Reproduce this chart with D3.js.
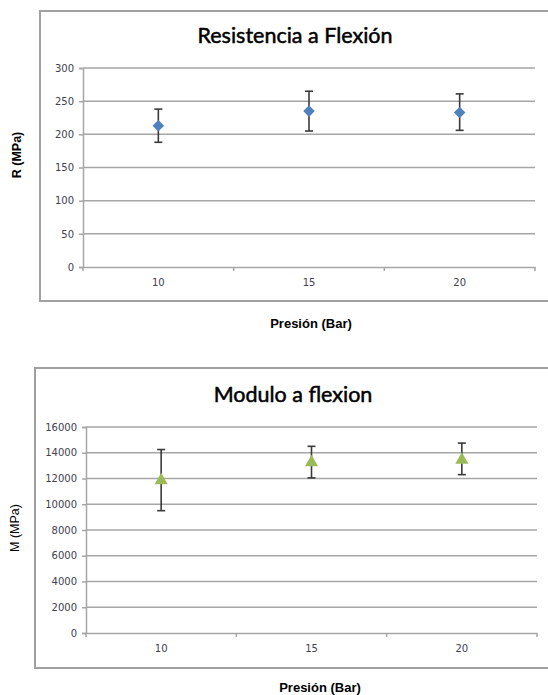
<!DOCTYPE html>
<html>
<head>
<meta charset="utf-8">
<script src="https://cdn.jsdelivr.net/npm/d3@7"></script>
<style>
  body { margin: 0; background: #fff; }
  svg { display: block; }
</style>
</head>
<body>
<svg id="chart" width="548" height="695"></svg>
<script>
(() => {
    // Data
    const presion = ["10", "15", "20"];

    const resistencia = [213, 235, 233];
    const resistenciaLow = [188, 205, 206];
    const resistenciaHigh = [238, 265, 261];
    const resistenciaTicks = [0, 50, 100, 150, 200, 250, 300];

    const modulo = [11850, 13250, 13450];
    const moduloLow = [9500, 12050, 12300];
    const moduloHigh = [14250, 14500, 14750];
    const moduloTicks = [0, 2000, 4000, 6000, 8000, 10000, 12000, 14000, 16000];

    const svg = d3.select("#chart");
    const gridColor = "#a6a6a6";
    const labelColor = "#3f4150";

    function drawChart(cfg) {
        const g = svg.append("g");

        // outer frame
        g.append("rect")
            .attr("x", cfg.box.x).attr("y", cfg.box.y)
            .attr("width", cfg.box.w).attr("height", cfg.box.h)
            .attr("fill", "none").attr("stroke", "#a0a0a0").attr("stroke-width", 2);

        g.append("text")
            .attr("x", cfg.titleX).attr("y", cfg.titleY)
            .attr("text-anchor", "middle")
            .style("font-family", "Lato, 'Open Sans', sans-serif")
            .style("font-size", "21.5px")
            .attr("fill", "#000")
            .attr("stroke", "#000")
            .attr("stroke-width", 0.5)
            .text(cfg.title);

        const x = d3.scaleBand().domain(presion).range([cfg.left, cfg.right]).padding(0);
        const y = d3.scaleLinear().domain([0, d3.max(cfg.ticks)]).range([cfg.bottom, cfg.top]);

        // horizontal gridlines
        g.append("g").selectAll("line")
            .data(cfg.ticks.filter(t => t > 0))
            .join("line")
            .attr("x1", cfg.left).attr("x2", cfg.right)
            .attr("y1", d => y(d)).attr("y2", d => y(d))
            .attr("stroke", gridColor).attr("stroke-width", 1.5);

        // y axis
        const yAxis = g.append("g")
            .attr("transform", `translate(${cfg.left},0)`)
            .call(d3.axisLeft(y).tickValues(cfg.ticks).tickFormat(d3.format("d")).tickSize(4).tickPadding(5));
        yAxis.select(".domain").attr("stroke", gridColor).attr("stroke-width", 1.5);
        yAxis.selectAll(".tick line").attr("stroke", gridColor).attr("stroke-width", 1.5);
        yAxis.selectAll("text")
            .style("font-family", "'DejaVu Sans', sans-serif")
            .style("font-size", "10px")
            .attr("fill", labelColor);

        // x axis with ticks on category boundaries
        const xAxis = g.append("g")
            .attr("transform", `translate(0,${cfg.bottom})`)
            .call(d3.axisBottom(x).tickSize(0).tickPadding(12));
        xAxis.select(".domain").attr("stroke", gridColor).attr("stroke-width", 1.5);
        xAxis.selectAll("text")
            .style("font-family", "'DejaVu Sans', sans-serif")
            .style("font-size", "10px")
            .attr("fill", labelColor);
        const bounds = presion.map(c => x(c)).concat([x(presion[presion.length - 1]) + x.bandwidth()]);
        g.append("g").selectAll("line")
            .data(bounds)
            .join("line")
            .attr("x1", d => d).attr("x2", d => d)
            .attr("y1", cfg.bottom).attr("y2", cfg.bottom + 4)
            .attr("stroke", gridColor).attr("stroke-width", 1.5);

        // error bars
        const pts = presion.map((c, i) => ({
            cx: x(c) + x.bandwidth() / 2,
            v: cfg.values[i], lo: cfg.low[i], hi: cfg.high[i]
        }));
        const eb = g.append("g").attr("stroke", "#3a3a3a").attr("stroke-width", 1.6);
        eb.selectAll("line.v").data(pts).join("line").attr("class", "v")
            .attr("x1", d => d.cx).attr("x2", d => d.cx)
            .attr("y1", d => y(d.lo)).attr("y2", d => y(d.hi));
        eb.selectAll("line.lo").data(pts).join("line").attr("class", "lo")
            .attr("x1", d => d.cx - 4).attr("x2", d => d.cx + 4)
            .attr("y1", d => y(d.lo)).attr("y2", d => y(d.lo));
        eb.selectAll("line.hi").data(pts).join("line").attr("class", "hi")
            .attr("x1", d => d.cx - 4).attr("x2", d => d.cx + 4)
            .attr("y1", d => y(d.hi)).attr("y2", d => y(d.hi));

        // markers
        g.append("g").selectAll("path")
            .data(pts)
            .join("path")
            .attr("transform", d => `translate(${d.cx},${y(d.v)})`)
            .attr("d", d3.symbol().type(cfg.symbol).size(cfg.symbolSize))
            .attr("fill", cfg.color);

        // axis titles
        g.append("text")
            .attr("transform", `translate(${cfg.yTitleX},${cfg.yTitleY}) rotate(-90)`)
            .attr("text-anchor", "middle")
            .style("font-family", "'Liberation Sans', Arial, sans-serif")
            .style("font-size", "12.5px")
            .style("font-weight", cfg.yTitleBold ? "bold" : "normal")
            .attr("fill", "#000")
            .text(cfg.yTitle);

        g.append("text")
            .attr("x", cfg.xTitleX).attr("y", cfg.xTitleY)
            .attr("text-anchor", "middle")
            .style("font-family", "'Liberation Sans', Arial, sans-serif")
            .style("font-size", "13px")
            .style("font-weight", "bold")
            .attr("fill", "#000")
            .text("Presión (Bar)");
    }

    drawChart({
        box: { x: 40, y: 11, w: 530, h: 290 },
        title: "Resistencia a Flexión", titleX: 295, titleY: 43,
        left: 83, right: 535, top: 68, bottom: 267,
        ticks: resistenciaTicks,
        values: resistencia, low: resistenciaLow, high: resistenciaHigh,
        symbol: d3.symbolDiamond2, symbolSize: 85, color: "#4f81bd",
        yTitle: "R (MPa)", yTitleBold: true, yTitleX: 21, yTitleY: 155,
        xTitleX: 311, xTitleY: 328
    });

    drawChart({
        box: { x: 35, y: 368, w: 530, h: 300 },
        title: "Modulo a flexion", titleX: 293, titleY: 402,
        left: 86, right: 537, top: 427, bottom: 633,
        ticks: moduloTicks,
        values: modulo, low: moduloLow, high: moduloHigh,
        symbol: d3.symbolTriangle, symbolSize: 75, color: "#9bbb59",
        yTitle: "M (MPa)", yTitleBold: false, yTitleX: 19, yTitleY: 528,
        xTitleX: 320, xTitleY: 692
    });
})();
</script>
</body>
</html>
